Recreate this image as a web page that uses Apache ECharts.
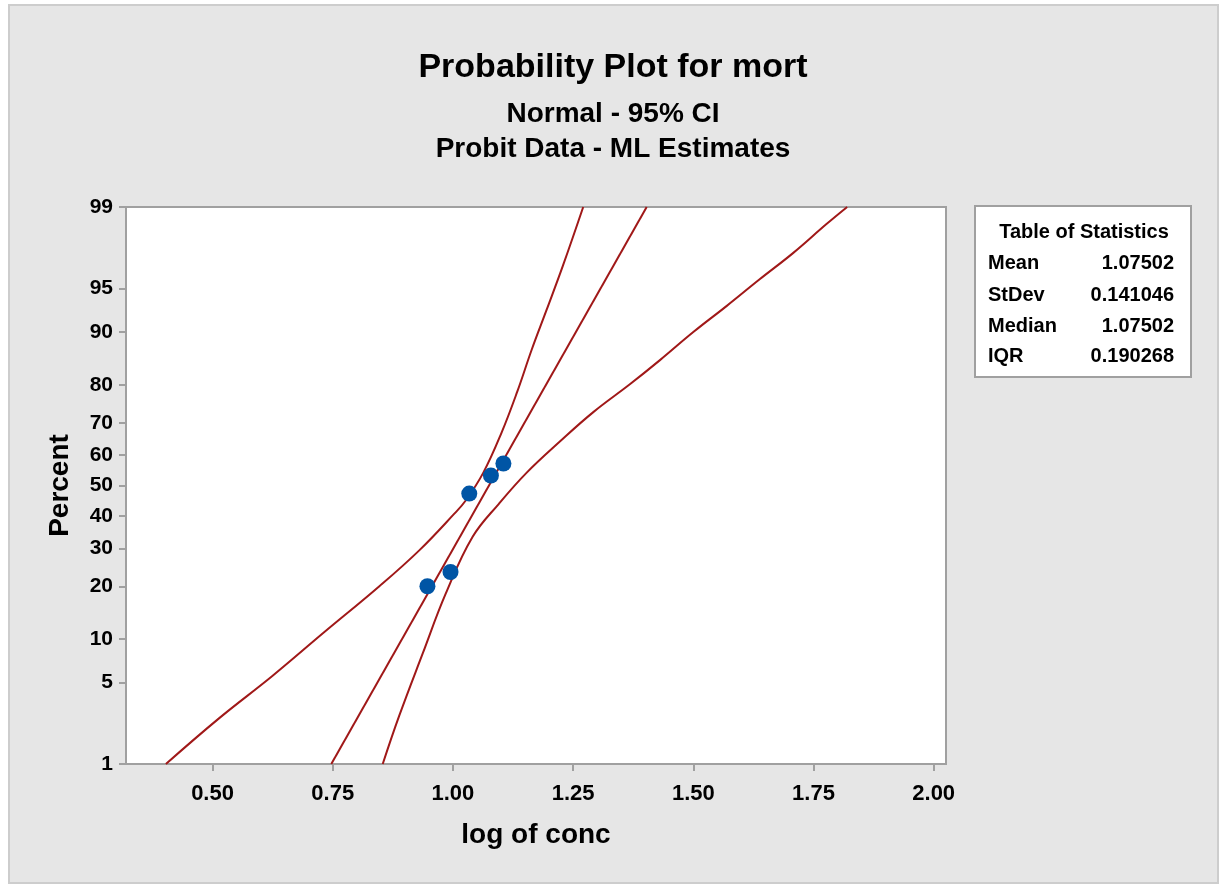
<!DOCTYPE html>
<html>
<head>
<meta charset="utf-8">
<script src="https://cdn.jsdelivr.net/npm/echarts@6/dist/echarts.min.js"></script>
<style>
  html, body { margin: 0; padding: 0; background: #fff; }
  #chart { width: 1226px; height: 886px; }
</style>
</head>
<body>
<div id="chart"></div>
<script>
// tick labels
const percentTicks = [1, 5, 10, 20, 30, 40, 50, 60, 70, 80, 90, 95, 99]
const concTicks = [0.5, 0.75, 1.0, 1.25, 1.5, 1.75, 2.0]

// observed points (log of conc, percent)
const obsConc = [0.947, 0.995, 1.034, 1.079, 1.105]
const obsPct = [20.0, 23.5, 47.3, 53.3, 57.3]

// fitted line, read at the plot edges
const fitConc = [0.747, 1.403]
const fitPct = [1, 99]

// 95% CI bands
const lowerConc = [0.403, 0.514, 0.625, 0.732, 0.847, 0.930, 1.003, 1.027, 1.063, 1.101, 1.134, 1.164, 1.195, 1.229, 1.271]
const lowerPct = [1, 2.6, 5.6, 11.0, 20.0, 29.4, 40.7, 45.1, 54.2, 67.0, 78.4, 87.2, 92.9, 96.7, 99]
const upperConc = [0.854, 0.888, 0.937, 0.985, 1.041, 1.096, 1.153, 1.223, 1.292, 1.368, 1.430, 1.500, 1.569, 1.638, 1.708, 1.777, 1.820]
const upperPct = [1, 2.7, 8.0, 18.3, 33.4, 44.0, 54.2, 64.4, 73.0, 80.1, 85.2, 90.0, 93.3, 95.75, 97.4, 98.55, 99]

const statNames = ['Mean', 'StDev', 'Median', 'IQR']
const statValues = ['1.07502', '0.141046', '1.07502', '0.190268']

// normal probability scale: percent -> z (Acklam's inverse normal)
function probit(p) {
  const a = [-39.69683028665376, 220.9460984245205, -275.9285104469687, 138.3577518672690, -30.66479806614716, 2.506628277459239]
  const b = [-54.47609879822406, 161.5858368580409, -155.6989798598866, 66.80131188771972, -13.28068155288572]
  const c = [-0.007784894002430293, -0.3223964580411365, -2.400758277161838, -2.549732539343734, 4.374664141464968, 2.938163982698783]
  const d = [0.007784695709041462, 0.3224671290700398, 2.445134137142996, 3.754408661907416]
  const pl = 0.02425
  let q, r
  if (p < pl) {
    q = Math.sqrt(-2 * Math.log(p))
    return (((((c[0]*q+c[1])*q+c[2])*q+c[3])*q+c[4])*q+c[5]) / ((((d[0]*q+d[1])*q+d[2])*q+d[3])*q+1)
  }
  if (p > 1 - pl) {
    q = Math.sqrt(-2 * Math.log(1 - p))
    return -(((((c[0]*q+c[1])*q+c[2])*q+c[3])*q+c[4])*q+c[5]) / ((((d[0]*q+d[1])*q+d[2])*q+d[3])*q+1)
  }
  q = p - 0.5
  r = q * q
  return (((((a[0]*r+a[1])*r+a[2])*r+a[3])*r+a[4])*r+a[5])*q / (((((b[0]*r+b[1])*r+b[2])*r+b[3])*r+b[4])*r+1)
}
const z = pct => probit(pct / 100)
const pairs = (xs, ps) => xs.map((x, i) => [x, z(ps[i])])

const FONT = "'Liberation Sans', Arial, sans-serif"
const RED = '#a01818'
const GRAY = '#a0a0a0'
const yTickZ = percentTicks.map(z)
const rowY = [263, 295, 326, 356]

const chart = echarts.init(document.getElementById('chart'))

chart.setOption({
  backgroundColor: '#fff',
  animation: false,
  title: [
    { text: 'Probability Plot for mort', left: 'center', top: 51, padding: 0,
      textStyle: { fontSize: 34, fontWeight: 'bold', fontFamily: FONT, color: '#000', lineHeight: 34 } },
    { text: 'Normal - 95% CI', left: 'center', top: 100, padding: 0,
      textStyle: { fontSize: 28, fontWeight: 'bold', fontFamily: FONT, color: '#000', lineHeight: 28 } },
    { text: 'Probit Data - ML Estimates', left: 'center', top: 135, padding: 0,
      textStyle: { fontSize: 28, fontWeight: 'bold', fontFamily: FONT, color: '#000', lineHeight: 28 } },
  ],
  grid: {
    left: 126, top: 207, right: 280, bottom: 122, containLabel: false,
    show: true, backgroundColor: '#fff', borderColor: GRAY, borderWidth: 2,
  },
  xAxis: {
    type: 'value', min: 0.32, max: 2.0256,
    name: 'log of conc', nameLocation: 'middle', nameGap: 57,
    nameTextStyle: { fontSize: 28, fontWeight: 'bold', fontFamily: FONT, color: '#000' },
    axisLine: { show: true, onZero: false, lineStyle: { color: GRAY, width: 2 } },
    axisTick: { show: true, length: 7, customValues: concTicks, lineStyle: { color: GRAY, width: 2 } },
    axisLabel: { customValues: concTicks, margin: 19, fontSize: 22, fontWeight: 'bold', fontFamily: FONT, color: '#000',
      formatter: v => v.toFixed(2) },
    splitLine: { show: false },
  },
  yAxis: {
    type: 'value', min: z(1), max: z(99),
    name: 'Percent', nameLocation: 'middle', nameGap: 52,
    nameTextStyle: { fontSize: 28, fontWeight: 'bold', fontFamily: FONT, color: '#000' },
    axisLine: { show: true, onZero: false, lineStyle: { color: GRAY, width: 2 } },
    axisTick: { show: true, length: 7, customValues: yTickZ, lineStyle: { color: GRAY, width: 2 } },
    axisLabel: { customValues: yTickZ, margin: 13, fontSize: 21, fontWeight: 'bold', fontFamily: FONT, color: '#000',
      formatter: v => {
        let best = 0
        yTickZ.forEach((t, i) => { if (Math.abs(t - v) < Math.abs(yTickZ[best] - v)) best = i })
        return String(percentTicks[best])
      } },
    splitLine: { show: false },
  },
  graphic: [
    { type: 'rect', z: -100, silent: true, shape: { x: 9, y: 5, width: 1209, height: 878 },
      style: { fill: '#e6e6e6', stroke: '#cdcdcd', lineWidth: 2 } },
    { type: 'rect', shape: { x: 975, y: 206, width: 216, height: 171 },
      style: { fill: '#fff', stroke: GRAY, lineWidth: 2 } },
    { type: 'text', x: 1084, y: 232,
      style: { text: 'Table of Statistics', align: 'center', verticalAlign: 'middle', fill: '#000',
        font: 'bold 20px ' + FONT } },
    ...statNames.map((n, i) => ({ type: 'text', x: 988, y: rowY[i],
      style: { text: n, align: 'left', verticalAlign: 'middle', fill: '#000', font: 'bold 20px ' + FONT } })),
    ...statValues.map((v, i) => ({ type: 'text', x: 1174, y: rowY[i],
      style: { text: v, align: 'right', verticalAlign: 'middle', fill: '#000', font: 'bold 20px ' + FONT } })),
  ],
  series: [
    { name: 'Lower CI', type: 'line', data: pairs(lowerConc, lowerPct), showSymbol: false, smooth: 0.4,
      lineStyle: { color: RED, width: 2 } },
    { name: 'Fit', type: 'line', data: pairs(fitConc, fitPct), showSymbol: false,
      lineStyle: { color: RED, width: 2 } },
    { name: 'Upper CI', type: 'line', data: pairs(upperConc, upperPct), showSymbol: false, smooth: 0.4,
      lineStyle: { color: RED, width: 2 } },
    { name: 'mort', type: 'scatter', data: pairs(obsConc, obsPct), symbolSize: 16,
      itemStyle: { color: '#0055a5', opacity: 1 }, z: 5 },
  ],
})
</script>
</body>
</html>
